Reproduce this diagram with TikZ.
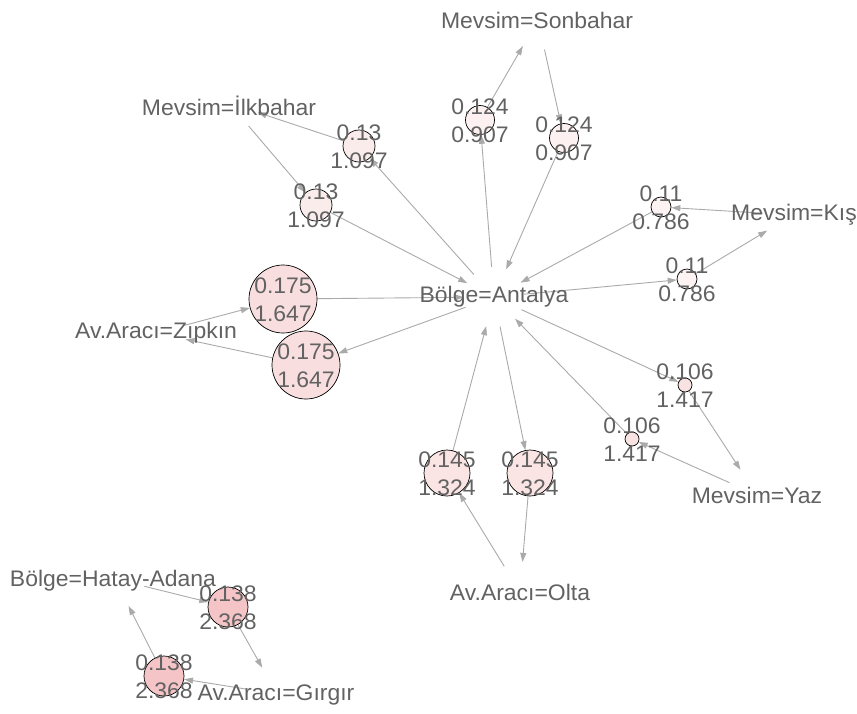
\documentclass[tikz,border=0pt]{standalone}
\usepackage{fontspec}
\setmainfont{Liberation Sans}[FakeStretch=1.02]
\usetikzlibrary{arrows.meta}
\pgfdeclarelayer{bg}
\pgfsetlayers{bg,main}
\definecolor{txt}{RGB}{98,98,98}
\definecolor{edgec}{RGB}{170,170,170}
\definecolor{pA}{RGB}{253,243,243}
\definecolor{pB}{RGB}{252,240,240}
\definecolor{pC}{RGB}{251,236,236}
\definecolor{pD}{RGB}{250,228,228}
\definecolor{pE}{RGB}{249,226,226}
\definecolor{pF}{RGB}{248,222,222}
\definecolor{pG}{RGB}{245,196,198}
\begin{document}
\begin{tikzpicture}[x=1pt,y=-1pt,
  itemv/.style={circle,minimum size=60pt,inner sep=0pt},
  itemtext/.style={text=txt,font=\fontsize{22.5}{28}\selectfont,inner sep=0pt},
  rulev/.style={circle,draw=black,line width=0.7pt,inner sep=0pt},
  rl/.style={text=txt,font=\fontsize{22.5}{28}\selectfont,align=center,inner sep=0pt,yshift=-1pt},
  arr/.style={draw=edgec,line width=0.9pt,-{Triangle[length=9pt,width=6pt]}}
]
\begin{pgfonlayer}{bg}
\fill[white] (0,0) rectangle (857,713);
\end{pgfonlayer}
\useasboundingbox (0,0) rectangle (857,713);

% item vertices (invisible)
\node[itemv] (son) at (538,20) {};
\node[itemv] (ilk) at (229,103) {};
\node[itemv] (kis) at (793,215) {};
\node[itemv] (ant) at (494,297) {};
\node[itemv] (zip) at (156,333) {};
\node[itemv] (yaz) at (757,495) {};
\node[itemv] (olt) at (520,592) {};
\node[itemv] (hat) at (115,579) {};
\node[itemv] (gir) at (277,694) {};

% rule vertices
\node[rulev,minimum size=32pt,fill=pC] (A) at (359,146) {};
\node[rulev,minimum size=32pt,fill=pC] (B) at (316,205) {};
\node[rulev,minimum size=29pt,fill=pB] (C) at (480,120) {};
\node[rulev,minimum size=29pt,fill=pB] (D) at (564,138) {};
\node[rulev,minimum size=20pt,fill=pA] (E) at (661,207) {};
\node[rulev,minimum size=20pt,fill=pA] (F) at (687,279) {};
\node[rulev,minimum size=68pt,fill=pF] (G) at (283,299) {};
\node[rulev,minimum size=68pt,fill=pF] (H) at (306,365) {};
\node[rulev,minimum size=14pt,fill=pE] (I) at (685,385) {};
\node[rulev,minimum size=14pt,fill=pE] (J) at (632,439) {};
\node[rulev,minimum size=46pt,fill=pD] (K) at (447,473) {};
\node[rulev,minimum size=46pt,fill=pD] (L) at (530,473) {};
\node[rulev,minimum size=40pt,fill=pG] (M) at (228,607) {};
\node[rulev,minimum size=40pt,fill=pG] (N) at (164,676) {};

\begin{pgfonlayer}{bg}
\draw[arr] (ant) -- (C);
\draw[arr] (C) -- (son);
\draw[arr] (son) -- (D);
\draw[arr] (D) -- (ant);
\draw[arr] (ant) -- (A);
\draw[arr] (A) -- (ilk);
\draw[arr] (ilk) -- (B);
\draw[arr] (B) -- (ant);
\draw[arr] (kis) -- (E);
\draw[arr] (E) -- (ant);
\draw[arr] (ant) -- (F);
\draw[arr] (F) -- (kis);
\draw[arr] (zip) -- (G);
\draw[arr] (G) -- (ant);
\draw[arr] (ant) -- (H);
\draw[arr] (H) -- (zip);
\draw[arr] (ant) -- (I);
\draw[arr] (I) -- (yaz);
\draw[arr] (yaz) -- (J);
\draw[arr] (J) -- (ant);
\draw[arr] (olt) -- (K);
\draw[arr] (K) -- (ant);
\draw[arr] (ant) -- (L);
\draw[arr] (L) -- (olt);
\draw[arr] (hat) -- (M);
\draw[arr] (M) -- (gir);
\draw[arr] (gir) -- (N);
\draw[arr] (N) -- (hat);
\end{pgfonlayer}

% item labels
\node[itemtext] at (537,20) {Mevsim=Sonbahar};
\node[itemtext] at (229,106) {Mevsim=İlkbahar};
\node[itemtext] at (794,215) {Mevsim=Kış};
\node[itemtext] at (494,297) {Bölge=Antalya};
\node[itemtext] at (156,333) {Av.Aracı=Zıpkın};
\node[itemtext] at (757,495) {Mevsim=Yaz};
\node[itemtext] at (520,592) {Av.Aracı=Olta};
\node[itemtext] at (113,581) {Bölge=Hatay-Adana};
\node[itemtext] at (276,695) {Av.Aracı=Gırgır};

% rule labels
\node[rl] at (A) {0.13\\1.097};
\node[rl] at (B) {0.13\\1.097};
\node[rl] at (C) {0.124\\0.907};
\node[rl] at (D) {0.124\\0.907};
\node[rl] at (E) {0.11\\0.786};
\node[rl] at (F) {0.11\\0.786};
\node[rl] at (G) {0.175\\1.647};
\node[rl] at (H) {0.175\\1.647};
\node[rl] at (I) {0.106\\1.417};
\node[rl] at (J) {0.106\\1.417};
\node[rl] at (K) {0.145\\1.324};
\node[rl] at (L) {0.145\\1.324};
\node[rl] at (M) {0.138\\2.368};
\node[rl] at (N) {0.138\\2.368};
\end{tikzpicture}
\end{document}
